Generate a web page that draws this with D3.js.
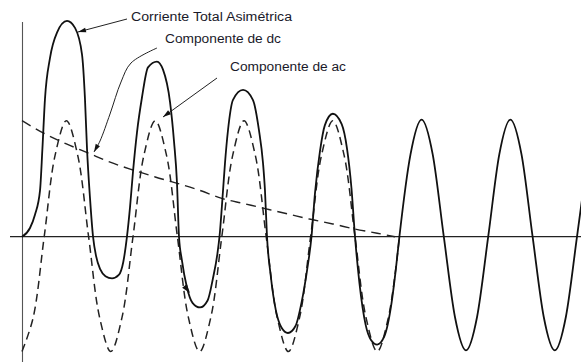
<!DOCTYPE html>
<html>
<head>
<meta charset="utf-8">
<script src="https://cdn.jsdelivr.net/npm/d3@7"></script>
<style>
  html, body { margin: 0; padding: 0; background: #fff; }
  svg { display: block; }
</style>
</head>
<body>
<svg id="chart" width="581" height="362"></svg>
<script>
// Time in cycles of the supply frequency, current in per-unit of the ac peak.

// Total asymmetric current (ac + dc)
const totalT = [0, 0.09, 0.146, 0.203, 0.23, 0.259, 0.315, 0.394, 0.507, 0.597, 0.676, 0.709, 0.732, 0.766, 0.80,
  0.835, 0.88, 0.94, 1.014, 1.09, 1.14, 1.182,
  1.216, 1.25, 1.295, 1.351, 1.419, 1.52, 1.588, 1.667, 1.712, 1.745, 1.768,
  1.80, 1.858, 1.92, 2.005, 2.09, 2.15, 2.20, 2.224,
  2.264, 2.286, 2.32, 2.376, 2.489, 2.60, 2.668, 2.714, 2.736, 2.759,
  2.80, 2.86, 2.92, 2.995, 3.08, 3.15, 3.21, 3.26,
  3.30, 3.356, 3.41, 3.50, 3.60, 3.66, 3.71, 3.75,
  3.80, 3.87, 3.93, 4.0, 4.08, 4.16, 4.21, 4.25,
  4.375, 4.5, 4.625, 4.75, 4.875, 5.0, 5.125, 5.25, 5.375, 5.5, 5.625, 5.75, 5.875, 6.0, 6.125, 6.25, 6.375];
const totalV = [0, 0.075, 0.19, 0.40, 0.76, 1.19, 1.54, 1.76, 1.86, 1.80, 1.57, 1.19, 0.76, 0.33, 0,
  -0.17, -0.28, -0.34, -0.36, -0.33, -0.22, 0,
  0.25, 0.56, 0.90, 1.20, 1.46, 1.51, 1.44, 1.16, 0.82, 0.47, 0,
  -0.20, -0.44, -0.57, -0.61, -0.55, -0.36, -0.15, 0,
  0.40, 0.635, 0.92, 1.18, 1.265, 1.18, 0.92, 0.635, 0.40, 0,
  -0.33, -0.64, -0.78, -0.83, -0.77, -0.56, -0.29, 0,
  0.38, 0.74, 0.96, 1.06, 0.97, 0.76, 0.42, 0,
  -0.40, -0.76, -0.89, -0.93, -0.86, -0.58, -0.28, 0,
  0.71, 1.01, 0.71, 0, -0.69, -0.98, -0.69, 0, 0.71, 1.01, 0.71, 0, -0.69, -0.98, -0.69, 0, 0.71];

// Symmetrical ac component
const acT = [0, 0.125, 0.25, 0.375, 0.5, 0.625, 0.75, 0.875, 1.0, 1.125, 1.25, 1.375, 1.5, 1.625, 1.75, 1.875,
  2.0, 2.125, 2.25, 2.375, 2.5, 2.625, 2.75, 2.875, 3.0, 3.125, 3.25, 3.375, 3.5, 3.625, 3.75, 3.875, 4.0, 4.125, 4.25];
const acV = [-0.99, -0.70, 0, 0.71, 1.0, 0.71, 0, -0.70, -0.99, -0.70, 0, 0.71, 1.0, 0.71, 0, -0.70,
  -0.99, -0.70, 0, 0.71, 1.0, 0.71, 0, -0.70, -0.99, -0.70, 0, 0.71, 1.0, 0.71, 0, -0.70, -0.99, -0.70, 0];

// Decaying dc component
const dcT = [0, 0.25, 0.5, 0.75, 1.0, 1.25, 1.5, 1.75, 2.0, 2.25, 2.5, 2.75, 3.0, 3.25, 3.5, 3.75, 4.0, 4.2];
const dcV = [1.0, 0.89, 0.80, 0.72, 0.64, 0.575, 0.515, 0.46, 0.40, 0.33, 0.285, 0.24, 0.195, 0.15, 0.11, 0.066, 0.03, 0.0];

// Annotation labels
const labels = ["Corriente Total Asimétrica", "Componente de dc", "Componente de ac"];

const svg = d3.select("#chart");

const x = d3.scaleLinear().domain([0, 6.295]).range([22, 581]);
const y = d3.scaleLinear().domain([-1, 1]).range([352.7, 120.7]);

const smooth = d3.line()
  .x(d => x(d[0]))
  .y(d => y(d[1]))
  .curve(d3.curveCatmullRom.alpha(0.5));

const traced = d3.line()
  .x(d => x(d[0]))
  .y(d => y(d[1]))
  .curve(d3.curveMonotoneX);

const zip = (a, b) => a.map((v, i) => [v, b[i]]);

// Axes
svg.append("line")
  .attr("x1", x(0) + 0.5).attr("x2", x(0) + 0.5)
  .attr("y1", 22).attr("y2", 362)
  .attr("stroke", "#555").attr("stroke-width", 1.1);

svg.append("line")
  .attr("x1", 10).attr("x2", 581)
  .attr("y1", y(0)).attr("y2", y(0))
  .attr("stroke", "#222").attr("stroke-width", 1.2);

// dc component
svg.append("path")
  .attr("d", smooth(zip(dcT, dcV)))
  .attr("fill", "none")
  .attr("stroke", "#222")
  .attr("stroke-width", 1.4)
  .attr("stroke-dasharray", "10,6");

// ac component
svg.append("path")
  .attr("d", smooth(zip(acT, acV)))
  .attr("fill", "none")
  .attr("stroke", "#222")
  .attr("stroke-width", 1.5)
  .attr("stroke-dasharray", "8,5");

// total asymmetric current
svg.append("path")
  .attr("d", traced(zip(totalT, totalV)))
  .attr("fill", "none")
  .attr("stroke", "#111")
  .attr("stroke-width", 1.8)
  .attr("stroke-linejoin", "round");

// Labels
const labelPos = [
  { x: 131, y: 20.5, w: 161 },
  { x: 165, y: 42.7, w: 116 },
  { x: 230, y: 70.5, w: 116 }
];
svg.selectAll("text.lbl")
  .data(labels)
  .join("text")
  .attr("class", "lbl")
  .attr("x", (d, i) => labelPos[i].x)
  .attr("y", (d, i) => labelPos[i].y)
  .attr("textLength", (d, i) => labelPos[i].w)
  .attr("lengthAdjust", "spacingAndGlyphs")
  .attr("font-family", "'Liberation Sans', Arial, sans-serif")
  .attr("font-size", 12.5)
  .attr("fill", "#1a1a2a")
  .text(d => d);

// Leader lines with filled arrowheads
function arrowHead(tip, from, len, half) {
  const dx = tip[0] - from[0], dy = tip[1] - from[1];
  const L = Math.hypot(dx, dy);
  const ux = dx / L, uy = dy / L;
  const bx = tip[0] - ux * len, by = tip[1] - uy * len;
  return [tip, [bx - uy * half, by + ux * half], [bx + uy * half, by - ux * half]];
}

const leaders = [
  { pts: [[127, 19], [78, 32]] },
  { pts: [[157, 48], [131, 63], [121, 82], [110, 114], [100, 141], [94, 152]] },
  { pts: [[217, 78], [163, 117]] }
];
const leaderLine = d3.line().curve(d3.curveCatmullRom.alpha(0.5));
leaders.forEach(l => {
  svg.append("path")
    .attr("d", leaderLine(l.pts))
    .attr("fill", "none")
    .attr("stroke", "#222")
    .attr("stroke-width", 1);
  const n = l.pts.length;
  svg.append("path")
    .attr("d", "M" + arrowHead(l.pts[n - 1], l.pts[n - 2], 8, 2.4).join("L") + "Z")
    .attr("fill", "#111");
});

// small arrow mark on the second trough
svg.append("path")
  .attr("d", "M" + arrowHead([190, 293], [183, 284], 9, 3).join("L") + "Z")
  .attr("fill", "#111");
</script>
</body>
</html>
